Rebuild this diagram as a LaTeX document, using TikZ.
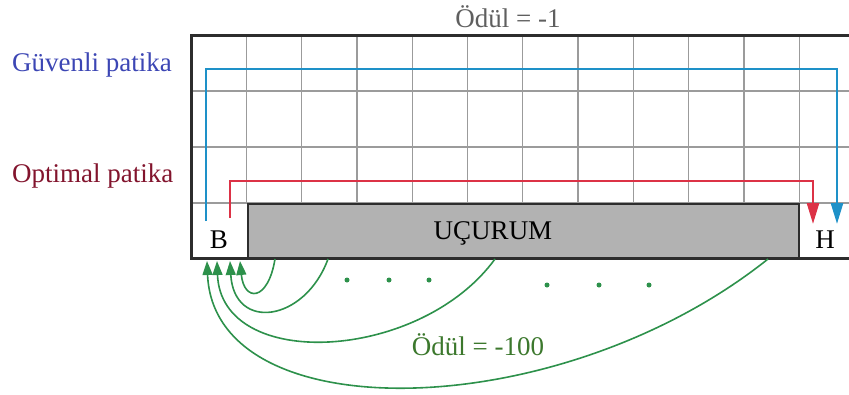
\documentclass[tikz,border=0pt]{standalone}
\usepackage{fontspec}
\setmainfont{Liberation Serif}
\usetikzlibrary{arrows.meta}
\definecolor{gridgray}{RGB}{155,155,155}
\definecolor{frame}{RGB}{45,45,45}
\definecolor{cliff}{RGB}{178,178,178}
\definecolor{safeblue}{RGB}{30,145,200}
\definecolor{optred}{RGB}{220,50,70}
\definecolor{safetext}{RGB}{60,70,180}
\definecolor{opttext}{RGB}{130,20,45}
\definecolor{rewgray}{RGB}{95,95,95}
\definecolor{fallgreen}{RGB}{45,145,75}
\definecolor{falltext}{RGB}{60,120,45}
\begin{document}
\begin{tikzpicture}[x=1pt,y=-1pt,
  lbl/.style={font=\fontsize{27}{30}\selectfont, inner sep=0pt},
  pathline/.style={line width=2.6pt, -{Triangle[length=21pt,width=12pt]}},
  fall/.style={fallgreen, line width=1.6pt, -{Triangle[length=14pt,width=10pt]}},
  dot/.style={circle, fill=fallgreen, inner sep=0pt, minimum size=5pt}]
\useasboundingbox (0,0) rectangle (849,394);
% grid of the cliff world: 12 columns x 4 rows
\foreach \i in {1,...,11}
  \draw[gridgray, line width=1.3pt] ({191+\i*55.3},35) -- ({191+\i*55.3},203);
\foreach \j in {1,2,3}
  \draw[gridgray, line width=1.3pt] (191,{35+\j*56}) -- (860,{35+\j*56});
% the cliff
\node[draw=frame, line width=1.5pt, fill=cliff, minimum width=551pt, minimum height=55pt,
      inner sep=0pt, anchor=north west] (cliffbox) at (247.3,203) {};
\node[lbl] (cliftxt) at (493,233) {UÇURUM};
% outer frame
\draw[frame, line width=3pt] (860,35) -- (191,35) -- (191,258.5) -- (860,258.5);
% start and goal
\node[lbl] (start) at (219,240) {B};
\node[lbl] (goal) at (825,240) {H};
% safe and optimal paths
\coordinate (s1) at (206,221);
\coordinate (g1) at (837,224);
\coordinate (s2) at (230,218);
\coordinate (g2) at (813,224);
\draw[pathline, safeblue] (s1) |- (521,69) -| (g1);
\draw[pathline, optred] (s2) |- (521,181) -| (g2);
% labels
\node[lbl, text=safetext, anchor=west] (safe) at (12,65) {Güvenli patika};
\node[lbl, text=opttext, anchor=west] (opt) at (12,176) {Optimal patika};
\node[lbl, text=rewgray] (rew1) at (508,17) {Ödül = -1};
\node[lbl, text=falltext] (rew2) at (478,345) {Ödül = -100};
% falling off the cliff sends the agent back to the start
\coordinate (f1) at (275,259);
\coordinate (f2) at (328,259);
\coordinate (f3) at (495,259);
\coordinate (f4) at (768,259);
\coordinate (b1) at (240,261);
\coordinate (b2) at (230,261);
\coordinate (b3) at (217,261);
\coordinate (b4) at (207,261);
\draw[fall] (f1) .. controls (268,302) and (244,302) .. (b1);
\draw[fall] (f2) .. controls (305,322) and (234,332) .. (b2);
\draw[fall] (f3) .. controls (420,362) and (221,372) .. (b3);
\draw[fall] (f4) .. controls (560,425) and (214,432) .. (b4);
\node[dot] (d1) at (347,280) {};
\node[dot] (d2) at (389,280) {};
\node[dot] (d3) at (429,280) {};
\node[dot] (d4) at (547,285) {};
\node[dot] (d5) at (599,285) {};
\node[dot] (d6) at (649,285) {};
\end{tikzpicture}
\end{document}
